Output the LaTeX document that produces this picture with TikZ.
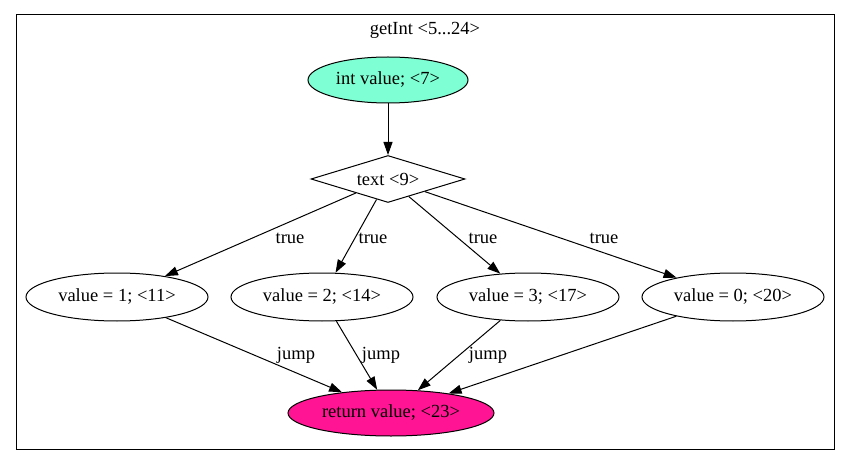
\documentclass[tikz,border=0pt]{standalone}
\usepackage{fontspec}
\setmainfont{Liberation Serif}
\usetikzlibrary{positioning,shapes.geometric,arrows.meta}
\definecolor{startcol}{HTML}{7FFFD4}
\definecolor{retcol}{HTML}{FF1493}
\tikzset{
  stmt/.style={draw, ellipse, line width=1pt, minimum width=182pt, minimum height=48pt, inner sep=0pt},
  cond/.style={draw, diamond, aspect=3.3, line width=1pt, minimum width=154pt, minimum height=47pt, inner sep=0pt},
  edge/.style={draw, line width=1pt, -{Triangle[length=13pt,width=9pt]}},
  lbl/.style={inner sep=0pt},
}
\begin{document}
\begin{tikzpicture}[x=1pt,y=-1pt,font=\fontsize{18.5}{21}\selectfont]
\useasboundingbox (0,0) rectangle (851,465);
\node[draw, line width=1pt, minimum width=818pt, minimum height=434pt, inner sep=0pt] (frame) at (425,232) {};
\node[lbl] (title) at (425,30) {getInt <5...24>};
% nodes
\node[stmt, fill=startcol, minimum width=160pt, minimum height=46pt] (decl) at (388,80) {int value; <7>};
\node[cond] (test) at (388,179) {text <9>};
\node[stmt] (v1) at (117,297) {value = 1; <11>};
\node[stmt, right=22pt of v1] (v2) {value = 2; <14>};
\node[stmt, right=23pt of v2] (v3) {value = 3; <17>};
\node[stmt, right=22pt of v3] (v0) {value = 0; <20>};
\node[stmt, fill=retcol, minimum width=206pt, minimum height=46pt] (ret) at (391,413) {return value; <23>};
% edges
\draw[edge] (decl) -- (test);
\draw[edge] (test) -- (v1);
\draw[edge] (test) -- (v2);
\draw[edge] (test) -- (v3);
\draw[edge] (test) -- (v0);
\draw[edge] (v1) -- (ret);
\draw[edge] (v2) -- (ret);
\draw[edge] (v3) -- (ret);
\draw[edge] (v0) -- (ret);
% labels
\node[lbl] (t1) at (290,238) {true};
\node[lbl] (t2) at (373,238) {true};
\node[lbl] (t3) at (483,238) {true};
\node[lbl] (t4) at (604,238) {true};
\node[lbl] (j1) at (296,355) {jump};
\node[lbl] (j2) at (381,355) {jump};
\node[lbl] (j3) at (488,355) {jump};
\end{tikzpicture}
\end{document}
